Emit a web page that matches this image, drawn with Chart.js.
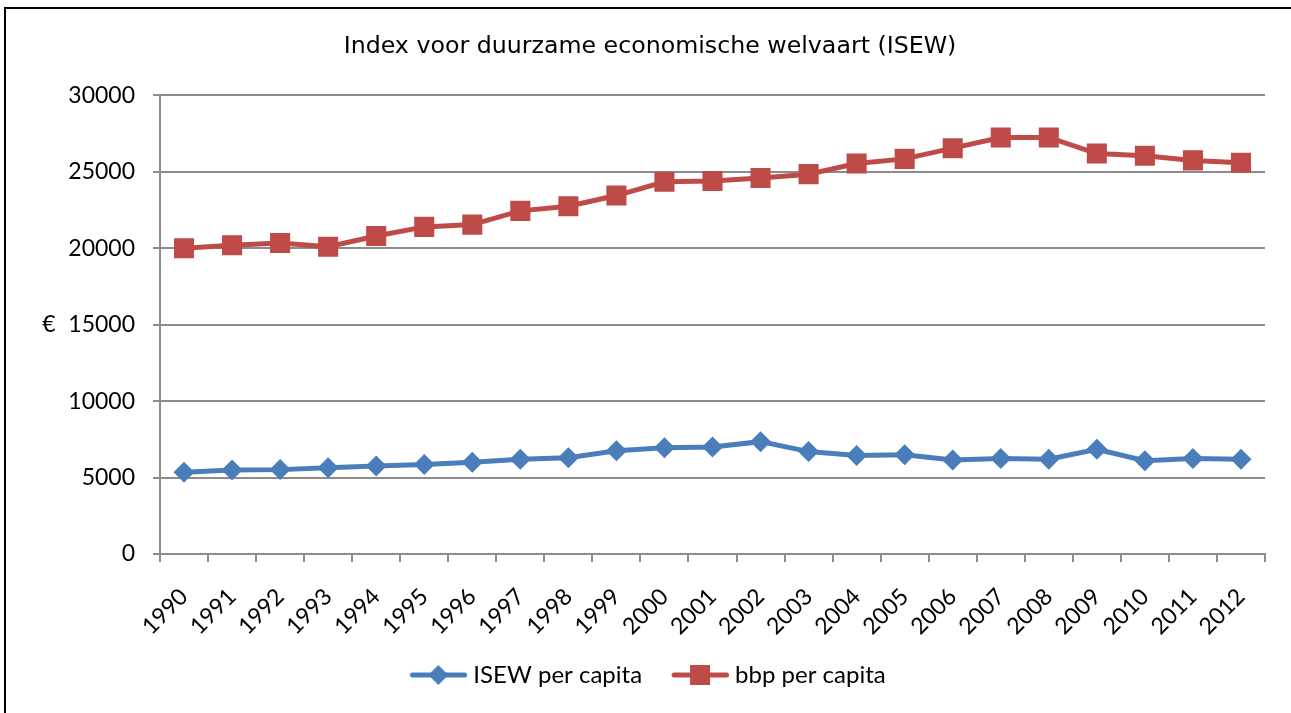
<!DOCTYPE html>
<html>
<head>
<meta charset="utf-8">
<script src="https://cdn.jsdelivr.net/npm/chart.js@4/dist/chart.umd.min.js"></script>
<style>
  html, body { margin: 0; padding: 0; background: #fff; overflow: hidden; }
  canvas { display: block; }
</style>
</head>
<body>
<canvas id="chart" width="1291" height="713"></canvas>
<script>
const years = ['1990','1991','1992','1993','1994','1995','1996','1997','1998','1999','2000','2001',
  '2002','2003','2004','2005','2006','2007','2008','2009','2010','2011','2012'];
const isewPerCapita = [5350, 5500, 5520, 5650, 5750, 5850, 6000, 6200, 6300, 6750, 6950, 7000,
  7350, 6700, 6450, 6500, 6150, 6250, 6200, 6850, 6100, 6250, 6200];
const bbpPerCapita = [20000, 20200, 20350, 20100, 20800, 21400, 21550, 22450, 22750, 23450, 24350, 24400,
  24600, 24850, 25550, 25850, 26550, 27250, 27250, 26200, 26050, 25750, 25600];
const yTicks = [0, 5000, 10000, 15000, 20000, 25000, 30000];

const BLUE = '#4a7ebb';
const RED = '#be4b48';
const GRID = '#8c8c8c';
const tickFont = { family: 'Lato', size: 23 };

// legend icon: line with marker, drawn on a small canvas
function legendIcon(color, style) {
  const c = document.createElement('canvas');
  c.width = 83; c.height = 24;
  const g = c.getContext('2d');
  g.strokeStyle = color; g.fillStyle = color;
  g.lineWidth = 5; g.lineCap = 'round';
  g.beginPath(); g.moveTo(28, 12); g.lineTo(80.5, 12); g.stroke();
  const cx = 54;
  g.beginPath();
  if (style === 'diamond') {
    g.moveTo(cx, 2); g.lineTo(cx + 10, 12); g.lineTo(cx, 22); g.lineTo(cx - 10, 12);
  } else {
    g.rect(cx - 10, 2, 20, 20);
  }
  g.closePath(); g.fill();
  return c;
}

// outer frame (left and top edges only), legend nudge and the unrotated euro axis label
const extras = {
  id: 'extras',
  afterLayout(chart) {
    chart.legend.left -= 12;
    chart.legend.right -= 12;
  },
  beforeDraw(chart) {
    const ctx = chart.ctx;
    ctx.save();
    ctx.strokeStyle = '#000';
    ctx.lineWidth = 2;
    ctx.beginPath();
    ctx.moveTo(5, 713); ctx.lineTo(5, 8); ctx.lineTo(1291, 8);
    ctx.stroke();
    ctx.restore();
  },
  afterDraw(chart) {
    const y = chart.scales.y;
    const ctx = chart.ctx;
    ctx.save();
    ctx.font = '23px Lato';
    ctx.fillStyle = '#000';
    ctx.textAlign = 'center';
    ctx.textBaseline = 'middle';
    ctx.fillText('€', 49, (y.top + y.bottom) / 2);
    ctx.restore();
  }
};

new Chart(document.getElementById('chart'), {
  type: 'line',
  data: {
    labels: years,
    datasets: [
      {
        label: 'ISEW per capita',
        data: isewPerCapita,
        borderColor: BLUE,
        backgroundColor: BLUE,
        borderWidth: 5,
        pointStyle: 'rectRot',
        pointRadius: 10.5,
        pointBorderWidth: 0,
        tension: 0
      },
      {
        label: 'bbp per capita',
        data: bbpPerCapita,
        borderColor: RED,
        backgroundColor: RED,
        borderWidth: 5,
        pointStyle: 'rect',
        pointRadius: 14.2,
        pointBorderWidth: 0,
        tension: 0
      }
    ]
  },
  options: {
    responsive: false,
    animation: false,
    layout: { padding: { left: 35, right: 26, top: 0, bottom: 16 } },
    plugins: {
      title: {
        display: true,
        text: 'Index voor duurzame economische welvaart (ISEW)',
        color: '#000',
        font: { family: 'DejaVu Sans', size: 23.7, weight: 'normal' },
        padding: { top: 33, bottom: 34 }
      },
      legend: {
        position: 'bottom',
        labels: {
          usePointStyle: true,
          pointStyleWidth: 71,
          padding: 10,
          color: '#000',
          font: { family: 'Lato', size: 24 },
          generateLabels(chart) {
            return chart.data.datasets.map((ds, i) => ({
              text: ds.label,
              pointStyle: legendIcon(ds.borderColor, i === 0 ? 'diamond' : 'square'),
              fillStyle: ds.borderColor,
              strokeStyle: ds.borderColor,
              lineWidth: 0,
              fontColor: '#000',
              datasetIndex: i
            }));
          }
        }
      },
      tooltip: { enabled: false }
    },
    scales: {
      x: {
        offset: true,
        grid: { display: true, drawOnChartArea: false, offset: true, color: GRID, lineWidth: 2, tickLength: 8 },
        border: { display: true, color: GRID, width: 2 },
        ticks: { color: '#000', font: tickFont, minRotation: 45, maxRotation: 45, padding: 21, autoSkip: false },
        afterFit(scale) { scale.height = 99; }
      },
      y: {
        min: 0,
        max: 30000,
        afterBuildTicks(scale) { scale.ticks = yTicks.map(v => ({ value: v })); },
        grid: { color: GRID, lineWidth: 2, tickLength: 7 },
        border: { display: true, color: GRID, width: 2 },
        ticks: { color: '#000', font: tickFont, padding: 18, callback: v => String(v) },
        afterFit(scale) { scale.width = 125; }
      }
    }
  },
  plugins: [extras]
});
</script>
</body>
</html>
